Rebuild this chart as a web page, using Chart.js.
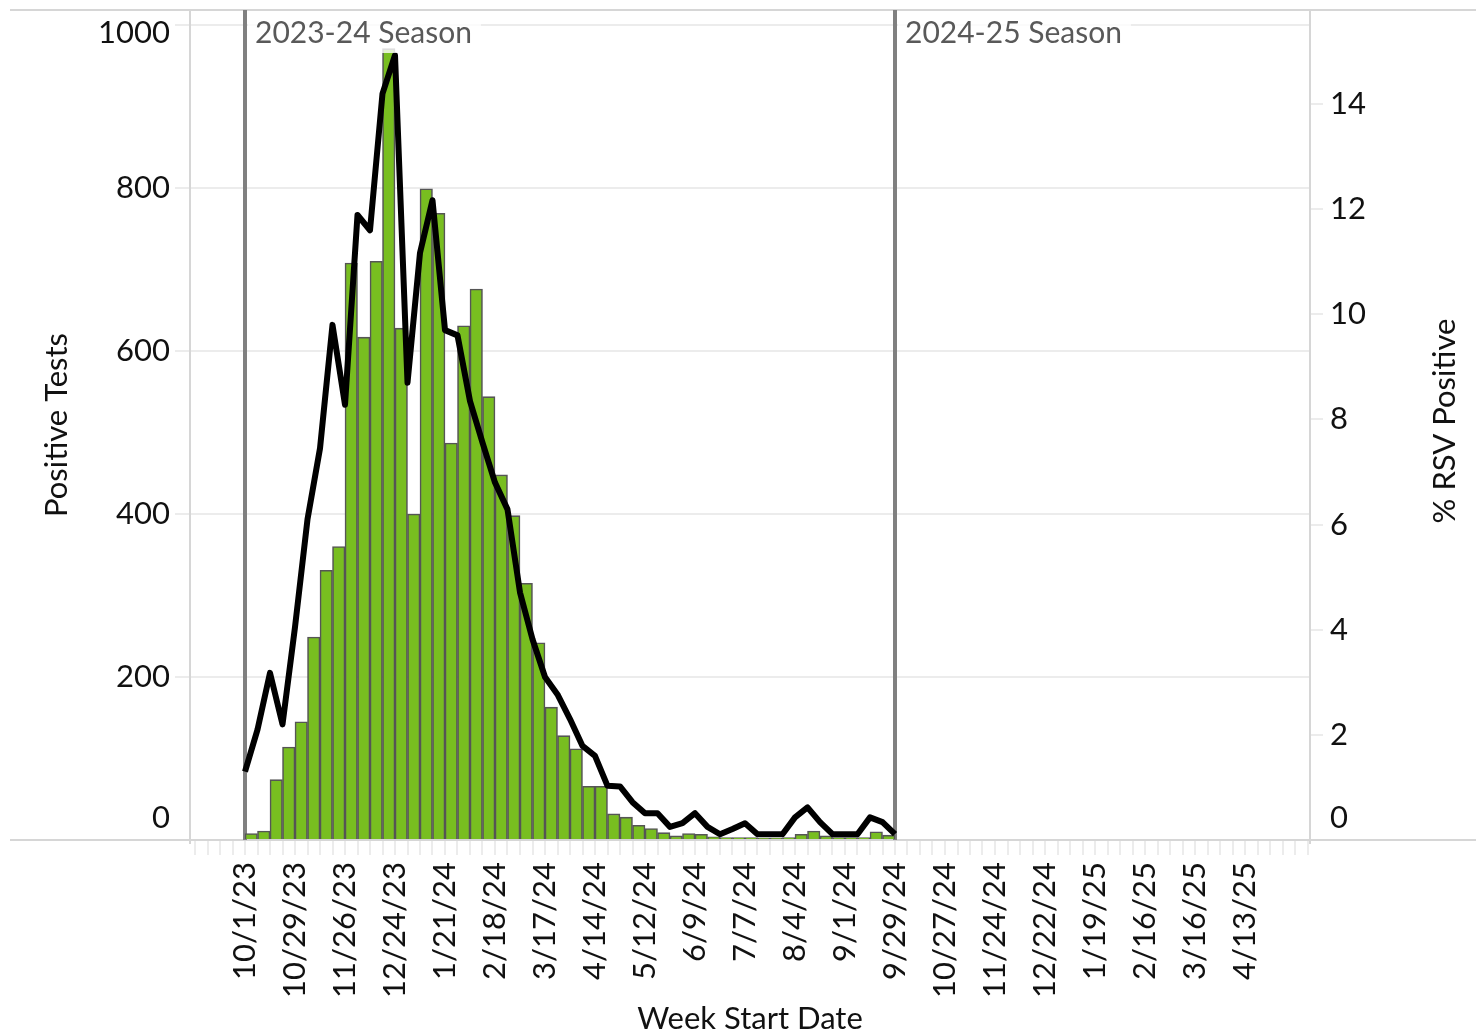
<!DOCTYPE html>
<html lang="en">
<head>
    <meta charset="UTF-8">
    <title>RSV Positive Tests by Week</title>
    <script src="https://cdn.jsdelivr.net/npm/chart.js"></script>
    <style>
        body { margin: 0; background: #fff; }
        canvas { display: block; }
    </style>
</head>
<body>
    <canvas id="rsvChart" width="1476" height="1036"></canvas>

    <script>
        // Week labels shown every 4 weeks, starting at 10/1/23 (week 0)
        const weekTickLabels = ['10/1/23', '10/29/23', '11/26/23', '12/24/23', '1/21/24', '2/18/24',
            '3/17/24', '4/14/24', '5/12/24', '6/9/24', '7/7/24', '8/4/24', '9/1/24', '9/29/24',
            '10/27/24', '11/24/24', '12/22/24', '1/19/25', '2/16/25', '3/16/25', '4/13/25'];

        // Positive tests per week (bars), weeks 0..51
        const positiveTests = [8, 11, 74, 114, 145, 249, 331, 360, 708, 617, 710, 971, 628, 400,
            799, 769, 487, 631, 676, 544, 448, 398, 315, 242, 163, 128, 112, 66, 66, 32, 28, 18,
            14, 9, 5, 8, 7, 4, 3, 3, 3, 2, 2, 3, 7, 11, 5, 3, 3, 3, 10, 6];

        // % RSV positive (line), weeks 0..52
        const pctPositive = [1.3, 2.1, 3.18, 2.2, 4.05, 6.1, 7.45, 9.8, 8.28, 11.89, 11.6, 14.2,
            14.93, 8.7, 11.17, 12.17, 9.7, 9.6, 8.35, 7.56, 6.8, 6.29, 4.71, 3.82, 3.1, 2.77, 2.3,
            1.79, 1.6, 1.03, 1.02, 0.72, 0.51, 0.51, 0.25, 0.32, 0.51, 0.25, 0.11, 0.21, 0.32,
            0.11, 0.11, 0.11, 0.43, 0.62, 0.34, 0.11, 0.11, 0.11, 0.43, 0.34, 0.11];

        const leftTicks = [0, 200, 400, 600, 800, 1000];
        const rightTicks = [0, 2, 4, 6, 8, 10, 12, 14];

        const seasonLabels = ['2023-24 Season', '2024-25 Season'];
        const seasonStartWeeks = [0, 52];

        const FONT = 'Lato';
        Chart.defaults.font.family = FONT;
        Chart.defaults.font.size = 31;
        Chart.defaults.color = '#111';

        // one tick mark per week across the whole axis
        function weeklyTicks(scale) {
            const ticks = [];
            for (let w = Math.ceil(scale.min); w <= Math.floor(scale.max); w++) ticks.push({value: w});
            scale.ticks = ticks;
        }

        // frame, season lines and the labels the library can't place the same way
        const decorPlugin = {
            id: 'decor',
            beforeDatasetsDraw(chart) {
                const ctx = chart.ctx;
                const a = chart.chartArea;
                const x = chart.scales.x;
                ctx.save();
                ctx.strokeStyle = '#d6d6d6';
                ctx.lineWidth = 2;
                ctx.beginPath();
                ctx.moveTo(10, a.top); ctx.lineTo(chart.width, a.top);
                ctx.moveTo(10, a.bottom); ctx.lineTo(chart.width, a.bottom);
                ctx.moveTo(a.left, a.top); ctx.lineTo(a.left, a.bottom + 4);
                ctx.moveTo(a.right, a.top); ctx.lineTo(a.right, a.bottom + 4);
                ctx.stroke();

                ctx.strokeStyle = '#808080';
                ctx.lineWidth = 4;
                seasonStartWeeks.forEach(w => {
                    const px = x.getPixelForValue(w);
                    ctx.beginPath();
                    ctx.moveTo(px, a.top);
                    ctx.lineTo(px, a.bottom);
                    ctx.stroke();
                });
                ctx.restore();
            },
            afterDatasetsDraw(chart) {
                const ctx = chart.ctx;
                const a = chart.chartArea;
                const x = chart.scales.x;
                ctx.save();
                ctx.font = '30px ' + FONT;
                ctx.textBaseline = 'middle';
                seasonStartWeeks.forEach((w, i) => {
                    const px = x.getPixelForValue(w);
                    const tw = ctx.measureText(seasonLabels[i]).width;
                    ctx.fillStyle = 'rgba(255,255,255,0.8)';
                    ctx.fillRect(px + 3, a.top + 1, tw + 16, 42);
                    ctx.fillStyle = '#595959';
                    ctx.fillText(seasonLabels[i], px + 10, a.top + 23);
                });
                ctx.restore();
            },
            afterDraw(chart) {
                const ctx = chart.ctx;
                const a = chart.chartArea;
                const y = chart.scales.y;
                const y1 = chart.scales.y1;
                const clamp = p => Math.min(Math.max(p, a.top + 23), a.bottom - 22);
                ctx.save();
                ctx.font = '31px ' + FONT;
                ctx.fillStyle = '#111';
                ctx.textBaseline = 'middle';
                ctx.textAlign = 'right';
                leftTicks.forEach(v => ctx.fillText(String(v), a.left - 20, clamp(y.getPixelForValue(v))));
                ctx.textAlign = 'left';
                rightTicks.forEach(v => ctx.fillText(String(v), a.right + 20, clamp(y1.getPixelForValue(v))));

                // right axis title reads bottom-to-top
                ctx.translate(1445, (a.top + a.bottom) / 2 - 4);
                ctx.rotate(-Math.PI / 2);
                ctx.textAlign = 'center';
                ctx.fillText('% RSV Positive', 0, 0);
                ctx.restore();
            }
        };

        const ctx = document.getElementById('rsvChart').getContext('2d');
        new Chart(ctx, {
            type: 'bar',
            data: {
                datasets: [{
                    type: 'line',
                    label: '% RSV Positive',
                    data: pctPositive.map((v, i) => ({x: i, y: v})),
                    yAxisID: 'y1',
                    borderColor: '#000',
                    borderWidth: 6,
                    pointRadius: 0,
                    tension: 0,
                    borderJoinStyle: 'round',
                    order: 0
                }, {
                    type: 'bar',
                    label: 'Positive Tests',
                    data: positiveTests.map((v, i) => ({x: i + 0.5, y: v})),
                    yAxisID: 'y',
                    backgroundColor: '#78be20',
                    borderColor: '#555',
                    borderWidth: 1.6,
                    barPercentage: 1,
                    categoryPercentage: 1,
                    order: 1
                }]
            },
            options: {
                responsive: false,
                animation: false,
                layout: { padding: { top: 10 } },
                plugins: {
                    legend: { display: false },
                    tooltip: { enabled: false }
                },
                scales: {
                    x: {
                        type: 'linear',
                        bounds: 'data',
                        min: -4.4,
                        max: 85.2,
                        offset: false,
                        border: { display: false },
                        grid: {
                            offset: false,
                            drawOnChartArea: false,
                            tickLength: 15,
                            tickColor: '#ececec',
                            lineWidth: 2
                        },
                        ticks: {
                            autoSkip: false,
                            minRotation: 90,
                            maxRotation: 90,
                            padding: 7,
                            color: '#111',
                            callback: v => (Number.isInteger(v) && v >= 0 && v % 4 === 0 && v / 4 < weekTickLabels.length)
                                ? weekTickLabels[v / 4] : ''
                        },
                        afterBuildTicks: weeklyTicks,
                        title: {
                            display: true,
                            text: 'Week Start Date',
                            color: '#111',
                            font: { size: 31, lineHeight: 1.1 },
                            padding: 0
                        },
                        afterFit: s => { s.height = 196; }
                    },
                    y: {
                        position: 'left',
                        bounds: 'data',
                        min: 0,
                        max: 1018.4,
                        border: { display: false },
                        grid: {
                            color: '#ececec',
                            lineWidth: 2,
                            tickLength: 15
                        },
                        ticks: {
                            color: 'rgba(0,0,0,0)',
                            font: { size: 2 }
                        },
                        afterBuildTicks: s => { s.ticks = leftTicks.map(v => ({value: v})); },
                        title: {
                            display: true,
                            text: 'Positive Tests',
                            color: '#111',
                            font: { size: 31 },
                            padding: { top: 38, bottom: 0 }
                        },
                        afterFit: s => { s.width = 190; }
                    },
                    y1: {
                        position: 'right',
                        bounds: 'data',
                        min: 0,
                        max: 15.79,
                        border: { display: false },
                        grid: {
                            drawOnChartArea: false,
                            color: '#ececec',
                            lineWidth: 2,
                            tickLength: 13
                        },
                        ticks: {
                            color: 'rgba(0,0,0,0)',
                            font: { size: 2 }
                        },
                        afterBuildTicks: s => { s.ticks = rightTicks.map(v => ({value: v})); },
                        afterFit: s => { s.width = 166; }
                    }
                }
            },
            plugins: [decorPlugin]
        });
    </script>
</body>
</html>
